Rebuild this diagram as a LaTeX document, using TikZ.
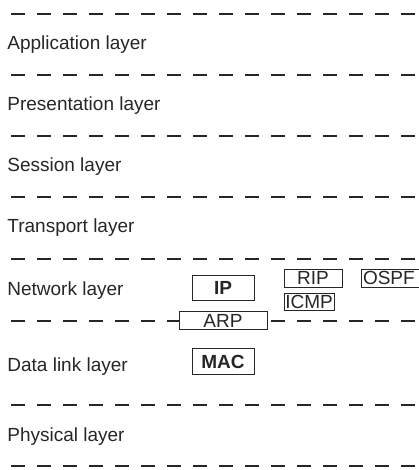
\documentclass[tikz,border=0pt]{standalone}
\usepackage{fontspec}
\setmainfont{Liberation Sans}
\usetikzlibrary{positioning}

\tikzset{
    layerline/.style={line width=1pt, dash pattern=on 7pt off 6pt, black!85},
    layername/.style={anchor=west, inner sep=0pt, font=\fontsize{9.5}{11}\selectfont, text=black!85},
    proto/.style={draw=black!85, line width=0.5pt, fill=white, inner sep=0pt, font=\fontsize{9.5}{11}\selectfont, text=black!85},
    protobold/.style={proto, font=\fontsize{9.5}{11}\selectfont\bfseries},
}

\begin{document}
\begin{tikzpicture}[x=0.5pt, y=-0.5pt]
    \useasboundingbox (0,0) rectangle (418,470);

    % layer boundaries
    \foreach \n/\y in {1/14, 2/75, 3/136, 4/197, 5/259, 6/321, 7/405, 8/466} {
        \coordinate (l\n) at (11,\y);
        \coordinate (r\n) at (426,\y);
        \draw[layerline] (l\n) -- (r\n);
    }

    % layer names
    \node[layername] (app) at (7,45) {Application layer};
    \node[layername] (pres) at (7,106) {Presentation layer};
    \node[layername] (sess) at (7,167) {Session layer};
    \node[layername] (trans) at (7,228) {Transport layer};
    \node[layername] (net) at (7,291) {Network layer};
    \node[layername] (link) at (7,367) {Data link layer};
    \node[layername] (phys) at (7,437) {Physical layer};

    % protocols
    \node[protobold, minimum width=31pt, minimum height=12.5pt] (ip) at (223,288) {IP};
    \node[proto, minimum width=44pt, minimum height=9pt, below=5pt of ip] (arp) {ARP};
    \node[protobold, minimum width=31pt, minimum height=13pt, below=9pt of arp] (mac) {MAC};

    \node[proto, minimum width=29pt, minimum height=9pt] (rip) at (313,278) {RIP};
    \node[proto, minimum width=25pt, minimum height=8.5pt, below=2.5pt of rip.south west, anchor=north west] (icmp) {ICMP};
    \node[proto, text width=30pt, align=left, inner xsep=1pt, minimum height=9pt, right=9pt of rip] (ospf) {OSPF};
\end{tikzpicture}
\end{document}
